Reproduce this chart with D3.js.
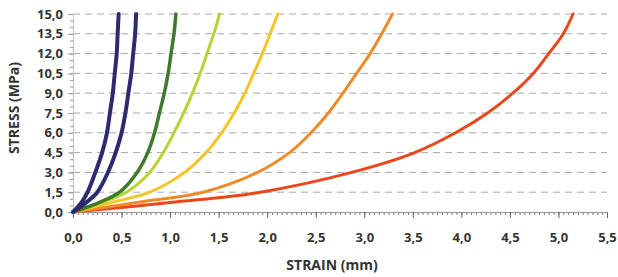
<!DOCTYPE html>
<html>
<head>
<meta charset="utf-8">
<script src="https://cdn.jsdelivr.net/npm/d3@7"></script>
<style>
  body { margin: 0; background: #fff; }
  text { font-family: "Open Sans", "DejaVu Sans", sans-serif; }
</style>
</head>
<body>
<div id="chart"></div>
<script>
// 1: DATA (stress levels shared by all curves, strain read per curve)
const stress = [0, 0.75, 1.5, 3, 4.5, 6, 7.5, 9, 10.5, 12, 13.5, 15];
const navy1  = [0, 0.09, 0.15, 0.23, 0.30, 0.35, 0.38, 0.41, 0.43, 0.45, 0.46, 0.47];
const navy2  = [0, 0.14, 0.25, 0.36, 0.44, 0.50, 0.54, 0.57, 0.60, 0.62, 0.64, 0.65];
const green  = [0, 0.28, 0.48, 0.66, 0.77, 0.84, 0.89, 0.94, 0.98, 1.01, 1.04, 1.06];
const lime   = [0, 0.30, 0.55, 0.79, 0.93, 1.04, 1.14, 1.23, 1.31, 1.38, 1.45, 1.51];
const yellow = [0, 0.41, 0.79, 1.15, 1.37, 1.53, 1.66, 1.77, 1.86, 1.95, 2.03, 2.11];
const orange = [0, 0.69, 1.34, 1.90, 2.23, 2.45, 2.63, 2.78, 2.92, 3.06, 3.18, 3.29];
const red    = [0, 1.05, 1.93, 2.87, 3.52, 3.94, 4.27, 4.53, 4.74, 4.90, 5.05, 5.15];

const seriesData = [red, orange, yellow, lime, green, navy2, navy1];
const seriesColors = ["#e9471a", "#f08a26", "#f6c422", "#b8d333", "#3f7a2c", "#2d2a70", "#2d2a70"];
const seriesWidths = [3, 3, 3, 3, 3.5, 4, 4];

const xTicks = d3.range(0, 5.51, 0.5);
const yTicks = d3.range(0, 15.01, 1.5);

// 2: LAYOUT
const W = 618, H = 277;
const margin = { top: 14, right: 11, bottom: 65, left: 73 };
const width = W - margin.left - margin.right;
const height = H - margin.top - margin.bottom;

const svg = d3.select("#chart").append("svg")
    .attr("width", W)
    .attr("height", H);
const g = svg.append("g")
    .attr("transform", `translate(${margin.left},${margin.top})`);

// 3: SCALES
const xScale = d3.scaleLinear().domain([0, 5.5]).range([0, width]);
const yScale = d3.scaleLinear().domain([0, 15]).range([height, 0]);
const fmt = v => d3.format(".1f")(v).replace(".", ",");

// 4: GRID
g.append("g")
    .selectAll("line")
    .data(yTicks.filter(d => d > 0))
    .enter().append("line")
    .attr("x1", 0)
    .attr("x2", width)
    .attr("y1", d => yScale(d))
    .attr("y2", d => yScale(d))
    .style("stroke", "#a8a8a8")
    .style("stroke-width", 1)
    .style("stroke-dasharray", "7,5");

// 5: AXES
// x minor ticks every 0.05
g.append("g")
    .attr("transform", `translate(0,${height})`)
    .call(d3.axisBottom(xScale).tickValues(d3.range(0, 5.5001, 0.05)).tickSize(3).tickFormat(""))
    .call(a => a.select(".domain").remove())
    .call(a => a.selectAll("line").style("stroke", "#777"));
// x major ticks + labels
const xAxis = g.append("g")
    .attr("transform", `translate(0,${height})`)
    .call(d3.axisBottom(xScale).tickValues(xTicks).tickSize(6).tickSizeOuter(0).tickPadding(15).tickFormat(fmt));
xAxis.select(".domain").style("stroke", "#999");
xAxis.selectAll("line").style("stroke", "#666");
xAxis.selectAll("text")
    .style("font-size", "13px")
    .style("font-weight", "bold")
    .style("fill", "#333");

// y minor ticks every 0.5
g.append("g")
    .call(d3.axisLeft(yScale).tickValues(d3.range(0, 15.01, 0.5)).tickSize(3).tickFormat(""))
    .call(a => a.select(".domain").remove())
    .call(a => a.selectAll("line").style("stroke", "#999"));
const yAxis = g.append("g")
    .call(d3.axisLeft(yScale).tickValues(yTicks).tickSize(5).tickSizeOuter(0).tickPadding(5).tickFormat(fmt));
yAxis.select(".domain").style("stroke", "#bbb");
yAxis.selectAll("line").style("stroke", "#999");
yAxis.selectAll("text")
    .style("font-size", "13px")
    .style("font-weight", "bold")
    .style("fill", "#333");

// 6: CURVES
const line = d3.line()
    .x(d => xScale(d[0]))
    .y(d => yScale(d[1]))
    .curve(d3.curveCatmullRom.alpha(0.5));

g.selectAll(".curve")
    .data(seriesData)
    .enter().append("path")
    .attr("class", "curve")
    .attr("d", s => line(s.map((v, i) => [v, stress[i]])))
    .style("fill", "none")
    .style("stroke", (d, i) => seriesColors[i])
    .style("stroke-width", (d, i) => seriesWidths[i])
    .style("stroke-linecap", "round");

// 7: LABELS
svg.append("text")
    .attr("x", margin.left + width / 2 - 8)
    .attr("y", 270)
    .attr("text-anchor", "middle")
    .style("font-size", "14px")
    .style("font-weight", "bold")
    .style("fill", "#333")
    .text("STRAIN (mm)");

svg.append("text")
    .attr("transform", "rotate(-90)")
    .attr("x", -(margin.top + height / 2) + 5)
    .attr("y", 19)
    .attr("text-anchor", "middle")
    .style("font-size", "14px")
    .style("font-weight", "bold")
    .style("fill", "#333")
    .text("STRESS (MPa)");
</script>
</body>
</html>
